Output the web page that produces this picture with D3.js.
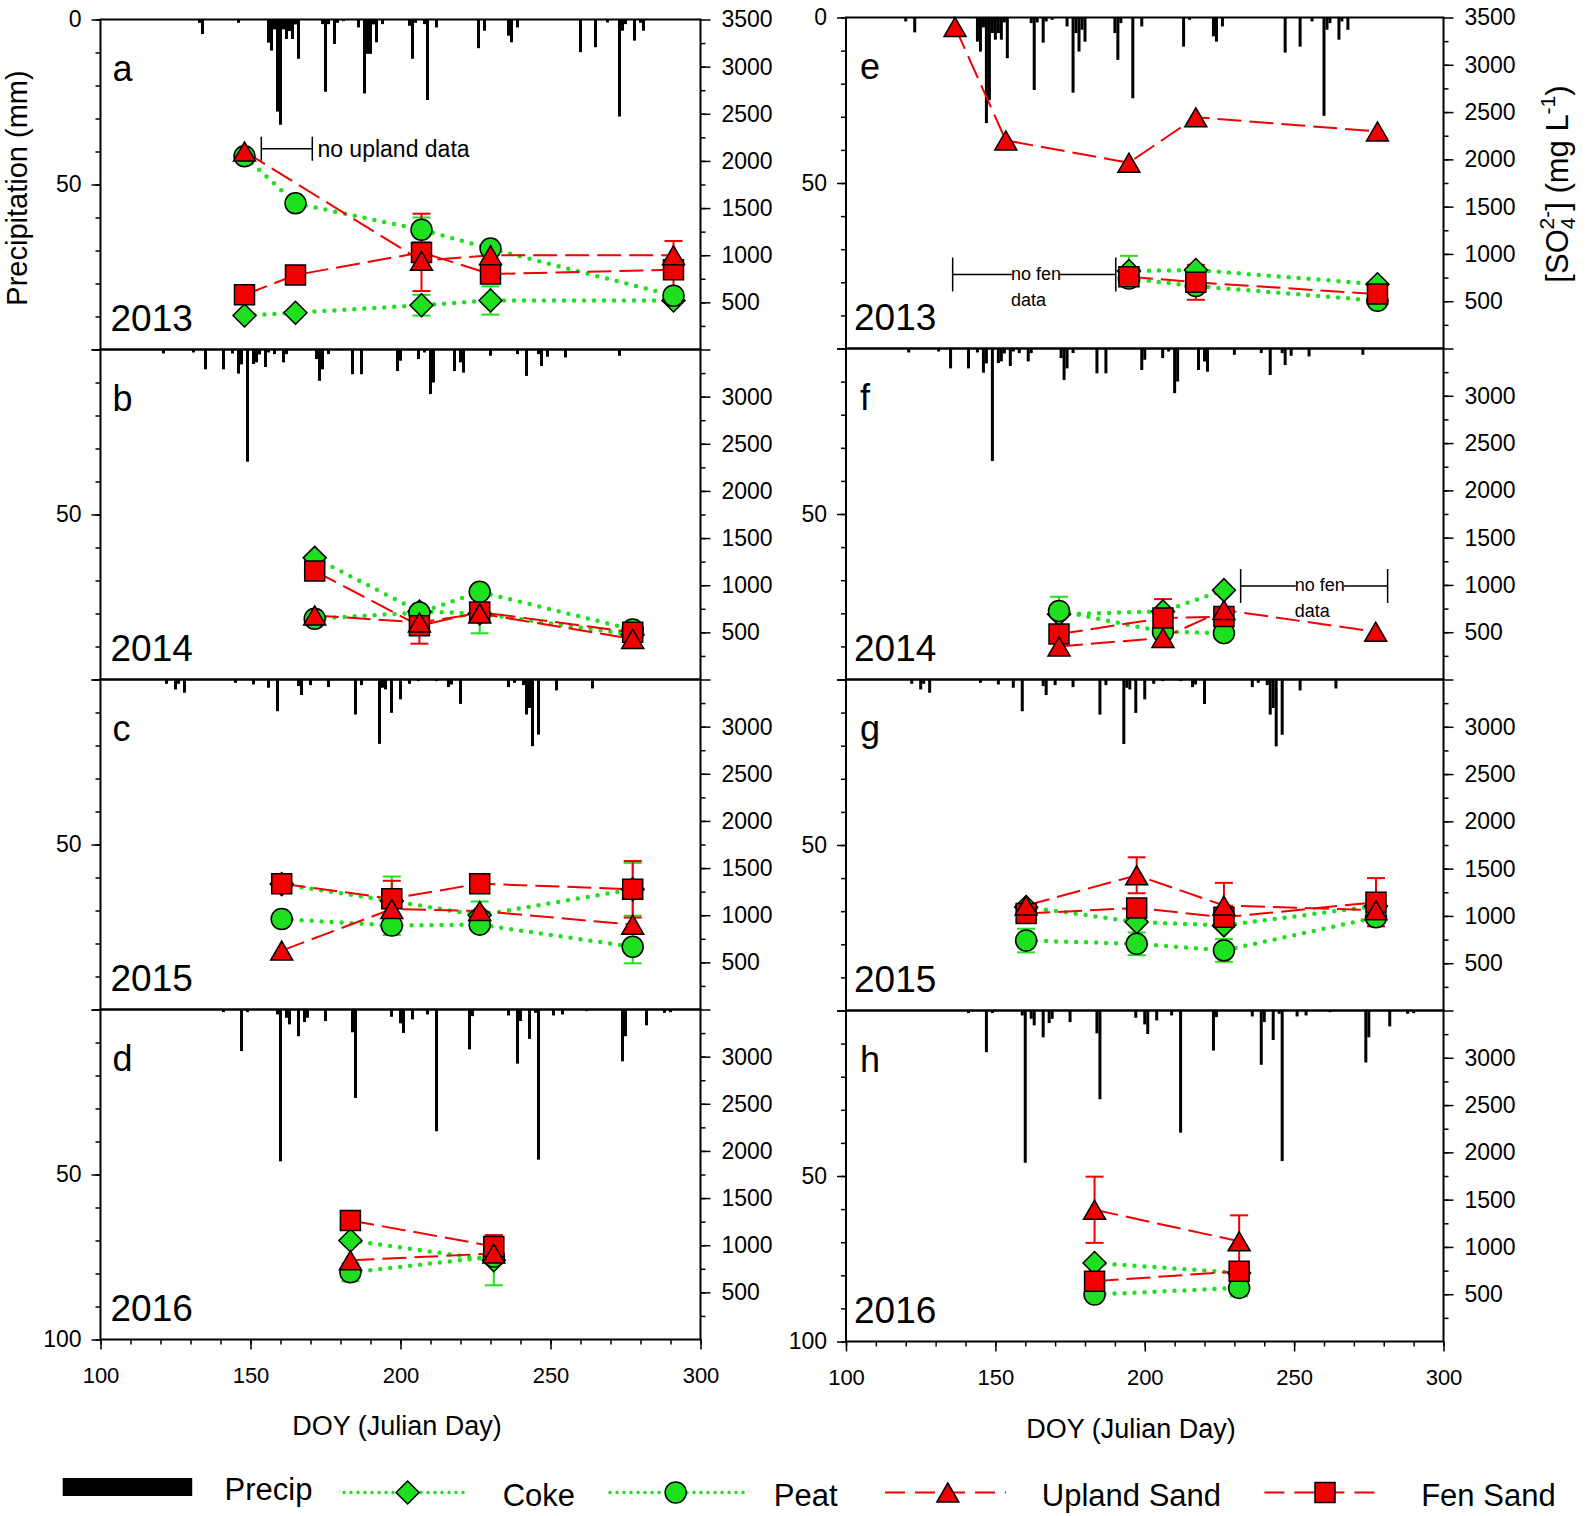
<!DOCTYPE html>
<html lang="en">
<head>
<meta charset="utf-8">
<title>Precipitation and sulfate, 2013-2016</title>
<script src="https://cdnjs.cloudflare.com/ajax/libs/d3/7.8.5/d3.min.js"></script>
<style>
  body { margin: 0; background: #fff; }
  svg text { font-family: Arial, "Liberation Sans", sans-serif; fill: #000; }
</style>
</head>
<body>
<svg id="chart" width="1586" height="1516"></svg>
<script>
// daily precipitation, [DOY, mm]
const precipA = [[133,1],[134,4.4],[146,1],[156,7],[157,9.4],[158,3],[159,27.9],[160,31.9],[161,3],[162,5.9],[163,3.5],[164,5.9],[165,1.5],[166,11.9],[174,1.4],[175,21.9],[176,1.4],[178,7.4],[179,1],[181,0.5],[186,2.4],[188,22.4],[189,10.4],[190,10.4],[191,1.5],[192,6.9],[194,1.4],[203,1.9],[204,11.9],[205,1],[208,1.4],[209,24.4],[212,2.4],[226,8.7],[228,3.4],[236,4.9],[237,6.9],[239,2.4],[260,9.9],[265,8.4],[269,0.9],[273,29.4],[274,3.4],[275,1.4],[278,6.4],[280,1],[281,3.4]];
const precipE = [[120,1.2],[123,4.5],[144,7.3],[145,10.3],[146,3],[147,31.9],[148,25],[149,4.7],[150,6.7],[151,4.7],[152,6.7],[153,1.5],[154,12.3],[162,1.7],[163,21.9],[164,1.5],[166,7.6],[167,1.2],[169,0.7],[174,2.7],[176,22.7],[177,4.7],[178,10.3],[179,3.7],[180,7.3],[190,4.7],[191,12.8],[192,1.7],[196,24.4],[199,2.7],[213,8.8],[215,0.7],[223,5.7],[224,7.3],[226,2.7],[247,10.6],[252,8.8],[256,1.2],[260,29.7],[261,3.7],[262,1.7],[265,6.7],[266,1.2],[268,3.7]];
const precip2014 = [[121,1.2],[131,0.9],[135,6],[141,6],[144,1.2],[146,7.3],[147,4.5],[149,34],[151,4.4],[152,3.9],[153,1.5],[155,5.3],[156,0.9],[158,1.4],[161,3.9],[162,1.4],[172,2.9],[173,9.5],[174,6],[176,1.4],[184,7.5],[187,7.5],[199,6.5],[200,3.4],[206,2.9],[208,0.9],[210,13.5],[211,10],[218,6.5],[220,3.9],[221,7],[230,1.9],[239,1.4],[242,8],[246,1.4],[247,5],[249,2.2],[255,2.4],[273,1.9]];
const precip2015 = [[122,1.3],[125,3],[126,1.3],[128,4],[145,1],[151,1.5],[156,2.5],[159,9.6],[166,2],[167,4.7],[170,1.7],[176,2.3],[185,10.6],[187,1.7],[193,19.5],[194,2.5],[195,3],[197,10.1],[200,6],[203,1.3],[206,0.5],[212,0.5],[216,2.3],[217,1.5],[220,7.4],[236,2.3],[238,1],[241,1.7],[242,10.6],[243,8.6],[244,20.2],[246,16.7],[252,3.3],[264,2.7]];
const precip2016 = [[141,0.8],[147,12.6],[149,0.8],[159,1.5],[160,46],[162,2.5],[163,4.5],[166,8.1],[168,3.8],[169,2.5],[175,3.5],[184,6.9],[185,26.8],[197,2.2],[200,4.2],[201,7.1],[204,3],[209,1.5],[212,36.9],[223,12.1],[224,2],[236,1.8],[239,16.4],[240,3.5],[243,8.9],[245,1],[246,45.5],[251,1.8],[254,1.5],[262,0.5],[274,15.7],[275,8.1],[282,4.8],[288,1],[290,0.8]];

// sulfate, sample DOY and [mg/L, error] per material
const doyA = [148, 165, 207, 230, 291];
const cokeA = [[360,0],[390,0],[470,110],[520,150],[520,0]];
const peatA = [[2050,0],[1550,0],[1270,130],[1070,0],[570,0]];
const uplandA = [[2100,0],null,[940,0],[1000,0],[1000,0]];
const fenA = [[580,0],[790,0],[1030,410],[800,0],[846,305]];

const doyB = [171.4, 206.3, 226.4, 277.4];
const cokeB = [[1290,0],[720,0],[700,210],[475,0]];
const peatB = [[645,0],[710,0],[930,0],[530,0]];
const uplandB = [[680,0],[605,0],[700,0],[430,0]];
const fenB = [[1150,0],[570,190],[715,0],[500,0]];

const doyC = [160.4, 197.1, 226.4, 277.4];
const cokeC = [[1330,0],[1150,260],[1000,145],[1275,280]];
const peatC = [[960,0],[890,100],[900,0],[665,175]];
const uplandC = [[625,0],[1065,0],[1045,0],[900,0]];
const fenC = [[1335,0],[1175,190],[1335,0],[1275,300]];

const doyD = [183.3, 231.1];
const cokeD = [[1050,0],[840,265]];
const peatD = [[712,95],[880,0]];
const uplandD = [[840,0],[912,0]];
const fenD = [[1263,0],[987,120]];

const doyE = [136.5, 153.5, 194.7, 217.1, 277.9];
const cokeE = [null,null,[820,160],[830,0],[680,0]];
const peatE = [null,null,[740,0],[660,0],[505,0]];
const uplandE = [[3400,0],[2200,0],[1965,0],[2445,0],[2295,0]];
const fenE = [null,null,[760,0],[700,185],[575,0]];

const doyF = [171.3, 206.1, 226.5, 277.3];
const cokeF = [[690,0],[720,0],[945,0],null];
const peatF = [[725,150],[505,0],[490,0],null];
const uplandF = [[350,0],[440,0],[735,0],[505,0]];
const fenF = [[480,0],[650,200],[665,0],null];

const doyG = [160.3, 197.3, 226.5, 277.4];
const cokeG = [[1095,0],[935,0],[900,0],[1105,0]];
const peatG = [[740,125],[705,120],[635,120],[985,0]];
const uplandG = [[1110,0],[1430,190],[1110,240],[1060,0]];
const fenG = [[1025,0],[1085,0],[985,0],[1145,255]];

const doyH = [183.2, 231.6];
const cokeH = [[830,0],[725,0]];
const peatH = [[497,0],[567,90]];
const uplandH = [[1393,350],[1059,275]];
const fenH = [[637,0],[743,0]];

const legendLabels = ['Precip', 'Coke', 'Peat', 'Upland Sand', 'Fen Sand'];

// panels built from the arrays above
const panels = [
  {id:'a', col:0, row:0, year:2013, precip:precipA, doy:doyA, coke:cokeA, peat:peatA, upland:uplandA, fen:fenA},
  {id:'b', col:0, row:1, year:2014, precip:precip2014, doy:doyB, coke:cokeB, peat:peatB, upland:uplandB, fen:fenB},
  {id:'c', col:0, row:2, year:2015, precip:precip2015, doy:doyC, coke:cokeC, peat:peatC, upland:uplandC, fen:fenC},
  {id:'d', col:0, row:3, year:2016, precip:precip2016, doy:doyD, coke:cokeD, peat:peatD, upland:uplandD, fen:fenD},
  {id:'e', col:1, row:0, year:2013, precip:precipE, doy:doyE, coke:cokeE, peat:peatE, upland:uplandE, fen:fenE},
  {id:'f', col:1, row:1, year:2014, precip:precip2014, doy:doyF, coke:cokeF, peat:peatF, upland:uplandF, fen:fenF},
  {id:'g', col:1, row:2, year:2015, precip:precip2015, doy:doyG, coke:cokeG, peat:peatG, upland:uplandG, fen:fenG},
  {id:'h', col:1, row:3, year:2016, precip:precip2016, doy:doyH, coke:cokeH, peat:peatH, upland:uplandH, fen:fenH}
];

// layout
const cols = [
  {left: 100.5, right: 700.5, top0: 19.5, h: 330, letterDx: 12, yearDx: 10},
  {left: 846, right: 1443.5, top0: 17.5, h: 331, letterDx: 14, yearDx: 8}
];
const green = '#1fe01f';
const red = '#f20000';
const drawOrder = ['coke', 'peat', 'fen', 'upland'];
const style = {
  coke:   {color: green, shape: 'diamond'},
  peat:   {color: green, shape: 'circle'},
  upland: {color: red, shape: 'triangle'},
  fen:    {color: red, shape: 'square'}
};

function markerPath(shape) {
  if (shape === 'diamond') return 'M0,-11.5L11.5,0L0,11.5L-11.5,0Z';
  if (shape === 'triangle') return 'M0,-9.5L11,9.5L-11,9.5Z';
  if (shape === 'square') return 'M-10,-10H10V10H-10Z';
  return 'M10.5,0A10.5,10.5 0 1,1 -10.5,0A10.5,10.5 0 1,1 10.5,0Z';
}

function styleLine(sel, key) {
  if (style[key].color === green) {
    sel.attr('stroke', green).attr('stroke-width', 4.5)
       .attr('stroke-dasharray', '0,10').attr('stroke-linecap', 'round');
  } else {
    sel.attr('stroke', red).attr('stroke-width', 2).attr('stroke-dasharray', '24,8');
  }
  return sel;
}

const svg = d3.select('#chart');

function fixAxis(a, size) {
  a.select('.domain').remove();
  a.selectAll('line').attr('stroke', '#000').attr('stroke-width', 1.5);
  a.selectAll('text').style('font-size', size + 'px')
    .style('font-family', 'Arial, "Liberation Sans", sans-serif');
}

panels.forEach(function(p) {
  const c = cols[p.col];
  const top = c.top0 + p.row * c.h;
  const bottom = top + c.h;
  const x = d3.scaleLinear().domain([100, 300]).range([c.left, c.right]);
  const yP = d3.scaleLinear().domain([0, 100]).range([top, bottom]);
  const yS = d3.scaleLinear().domain([0, 3500]).range([bottom, top]);
  const g = svg.append('g').attr('class', 'panel-' + p.id);

  // precipitation bars hang from the top
  g.selectAll('rect.precip').data(p.precip).enter().append('rect')
    .attr('class', 'precip')
    .attr('x', d => x(d[0]) - 1.5)
    .attr('y', top)
    .attr('width', 3)
    .attr('height', d => yP(d[1]) - top)
    .attr('fill', '#000');

  // left axis, precipitation
  g.append('g').attr('transform', 'translate(' + c.left + ',0)')
    .call(d3.axisLeft(yP).tickValues(d3.range(0, 101, 10)).tickSize(5).tickFormat(''))
    .call(a => fixAxis(a, 23));
  g.append('g').attr('transform', 'translate(' + c.left + ',0)')
    .call(d3.axisLeft(yP).tickValues([0, 50, 100]).tickSize(9).tickPadding(10)
      .tickFormat(d => (d === 50 || (d === 0 && p.row === 0) || (d === 100 && p.row === 3)) ? d : ''))
    .call(a => fixAxis(a, 23));

  // right axis, sulfate
  g.append('g').attr('transform', 'translate(' + c.right + ',0)')
    .call(d3.axisRight(yS).tickValues(d3.range(250, 3500, 250)).tickSize(5).tickFormat(''))
    .call(a => fixAxis(a, 23));
  g.append('g').attr('transform', 'translate(' + c.right + ',0)')
    .call(d3.axisRight(yS).tickValues(d3.range(500, 3501, 500)).tickSize(10).tickPadding(11)
      .tickFormat(d => (d === 3500 && p.row !== 0) ? '' : d))
    .call(a => fixAxis(a, 23));

  // bottom axis only on the last row
  if (p.row === 3) {
    g.append('g').attr('transform', 'translate(0,' + bottom + ')')
      .call(d3.axisBottom(x).tickValues(d3.range(100, 301, 10)).tickSize(5).tickFormat(''))
      .call(a => fixAxis(a, 22));
    g.append('g').attr('transform', 'translate(0,' + bottom + ')')
      .call(d3.axisBottom(x).tickValues(d3.range(100, 301, 50)).tickSize(10).tickPadding(18))
      .call(a => fixAxis(a, 22));
  }

  // frame
  g.append('rect')
    .attr('x', c.left).attr('y', top)
    .attr('width', c.right - c.left).attr('height', c.h)
    .attr('fill', 'none').attr('stroke', '#000').attr('stroke-width', 2);

  // series lines
  const line = d3.line().x(d => x(d.doy)).y(d => yS(d.v));
  drawOrder.forEach(function(key) {
    const pts = p[key].map((d, i) => d ? {doy: p.doy[i], v: d[0], e: d[1]} : null).filter(d => d);
    styleLine(g.append('path').datum(pts).attr('d', line).attr('fill', 'none'), key);
  });

  // error bars
  drawOrder.forEach(function(key) {
    const pts = p[key].map((d, i) => d ? {doy: p.doy[i], v: d[0], e: d[1]} : null).filter(d => d && d.e > 0);
    const eb = g.selectAll(null).data(pts).enter().append('g')
      .attr('stroke', style[key].color).attr('stroke-width', 2);
    eb.append('line').attr('x1', d => x(d.doy)).attr('x2', d => x(d.doy))
      .attr('y1', d => yS(d.v - d.e)).attr('y2', d => yS(d.v + d.e));
    eb.append('line').attr('x1', d => x(d.doy) - 9).attr('x2', d => x(d.doy) + 9)
      .attr('y1', d => yS(d.v + d.e)).attr('y2', d => yS(d.v + d.e));
    eb.append('line').attr('x1', d => x(d.doy) - 9).attr('x2', d => x(d.doy) + 9)
      .attr('y1', d => yS(d.v - d.e)).attr('y2', d => yS(d.v - d.e));
  });

  // markers
  drawOrder.forEach(function(key) {
    const pts = p[key].map((d, i) => d ? {doy: p.doy[i], v: d[0]} : null).filter(d => d);
    g.selectAll(null).data(pts).enter().append('path')
      .attr('d', markerPath(style[key].shape))
      .attr('transform', d => 'translate(' + x(d.doy) + ',' + yS(d.v) + ')')
      .attr('fill', style[key].color)
      .attr('stroke', '#000').attr('stroke-width', 1.5);
  });

  // panel letter and year
  g.append('text').attr('x', c.left + c.letterDx).attr('y', top + 61)
    .style('font-size', '36px').text(p.id);
  g.append('text').attr('x', c.left + c.yearDx).attr('y', bottom - 19)
    .style('font-size', '37px').text(p.year);

  // "no data" brackets
  if (p.id === 'a') {
    const yb = yS(2130);
    g.append('path').attr('d', 'M' + x(153.6) + ',' + (yb - 12) + 'V' + (yb + 12) + 'M' + x(153.6) + ',' + yb +
      'H' + x(170.6) + 'M' + x(170.6) + ',' + (yb - 12) + 'V' + (yb + 12))
      .attr('stroke', '#000').attr('stroke-width', 1.5).attr('fill', 'none');
    g.append('text').attr('x', x(172.3)).attr('y', yb + 8).style('font-size', '23px').text('no upland data');
  }
  if (p.id === 'e' || p.id === 'f') {
    const span = p.id === 'e' ? [135.7, 190.3, 155.2, 782] : [232.1, 281.3, 250.2, 989];
    const yb = yS(span[3]);
    const t = g.append('text').attr('x', x(span[2])).attr('y', yb + 5).style('font-size', '18px').text('no fen');
    const tw = t.node().getComputedTextLength();
    g.append('path').attr('d', 'M' + x(span[0]) + ',' + (yb - 17) + 'V' + (yb + 17) +
      'M' + x(span[0]) + ',' + yb + 'H' + (x(span[2]) + 1) +
      'M' + (x(span[2]) + tw - 1) + ',' + yb + 'H' + x(span[1]) +
      'M' + x(span[1]) + ',' + (yb - 17) + 'V' + (yb + 17))
      .attr('stroke', '#000').attr('stroke-width', 1.5).attr('fill', 'none');
    g.append('text').attr('x', x(span[2])).attr('y', yb + 31).style('font-size', '18px').text('data');
  }
});

// axis titles
svg.append('text').attr('transform', 'translate(27,188) rotate(-90)')
  .attr('text-anchor', 'middle').style('font-size', '29px').text('Precipitation (mm)');

const rt = svg.append('text').attr('transform', 'translate(1568,184) rotate(-90)')
  .attr('text-anchor', 'middle').style('font-size', '31px');
rt.append('tspan').text('[SO');
rt.append('tspan').attr('dy', 7).style('font-size', '21px').text('4');
rt.append('tspan').attr('dx', -12).attr('dy', -21).style('font-size', '21px').text('2-');
rt.append('tspan').attr('dy', 14).text('] (mg L');
rt.append('tspan').attr('dy', -13).style('font-size', '21px').text('-1');
rt.append('tspan').attr('dy', 13).text(')');

svg.append('text').attr('x', 397).attr('y', 1435).attr('text-anchor', 'middle')
  .style('font-size', '27px').text('DOY (Julian Day)');
svg.append('text').attr('x', 1131).attr('y', 1438).attr('text-anchor', 'middle')
  .style('font-size', '27px').text('DOY (Julian Day)');

// legend
const legendY = 1492.5;
const leg = svg.append('g');
leg.append('rect').attr('x', 62.7).attr('y', 1478).attr('width', 129.5).attr('height', 18).attr('fill', '#000');
leg.append('text').attr('x', 224.5).attr('y', 1500).style('font-size', '31px').text(legendLabels[0]);

const legendItems = [
  {key: 'coke', x1: 344, x2: 470, mx: 407.6, tx: 502.7, label: legendLabels[1]},
  {key: 'peat', x1: 610, x2: 743.5, mx: 675.7, tx: 773.8, label: legendLabels[2]},
  {key: 'upland', x1: 885, x2: 1006, mx: 947.8, tx: 1041.8, label: legendLabels[3]},
  {key: 'fen', x1: 1264.4, x2: 1380.7, mx: 1325, tx: 1421.2, label: legendLabels[4]}
];
legendItems.forEach(function(it) {
  const ln = leg.append('line').attr('x1', it.x1).attr('x2', it.x2).attr('y1', legendY).attr('y2', legendY);
  styleLine(ln, it.key);
  if (style[it.key].color === green) ln.attr('stroke-width', 3.5).attr('stroke-dasharray', '0,7');
  else ln.attr('stroke-dasharray', '20,10');
  leg.append('path').attr('d', markerPath(style[it.key].shape))
    .attr('transform', 'translate(' + it.mx + ',' + legendY + ')')
    .attr('fill', style[it.key].color).attr('stroke', '#000').attr('stroke-width', 1.5);
  leg.append('text').attr('x', it.tx).attr('y', 1506).style('font-size', '31px').text(it.label);
});
</script>
</body>
</html>
